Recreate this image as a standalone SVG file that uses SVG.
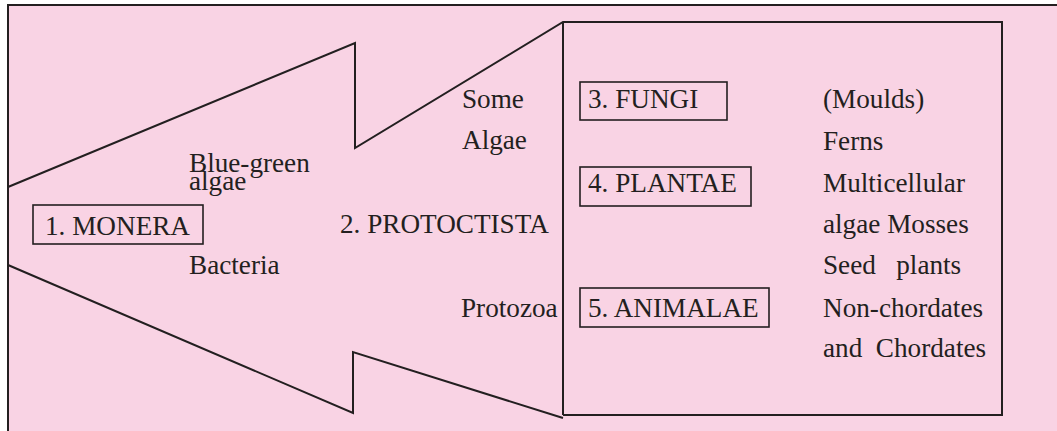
<svg xmlns="http://www.w3.org/2000/svg" width="1057" height="431" viewBox="0 0 1057 431">
<style>
.t{font-family:"Liberation Serif","Times New Roman",serif;font-size:27.2px;fill:#231f20}
.ln{fill:none;stroke:#231f20;stroke-width:2;stroke-linejoin:miter}
.box{fill:none;stroke:#231f20;stroke-width:1.6}
</style>
<rect x="0" y="0" width="1057" height="431" fill="#ffffff"/>
<rect x="8" y="5" width="1049" height="426" fill="#f9d3e4"/>
<g id="frame">
<path class="ln" d="M8,431 V5 H1057"/>
</g>
<g id="connectors">
<path class="ln" d="M8,187 L355,43 V148 L563,22 H1002 V415 H563"/>
<path class="ln" d="M563,22 V415"/>
<path class="ln" d="M563,418 L353,352 V413 L8,265"/>
</g>
<g id="monera">
<rect class="box" x="33" y="205" width="170" height="39"/>
<text class="t" x="45" y="235">1. MONERA</text>
<text class="t" x="189" y="172">Blue-green</text>
<text class="t" x="189" y="190">algae</text>
<text class="t" x="189" y="274">Bacteria</text>
</g>
<g id="protoctista">
<text class="t" x="340" y="233">2. PROTOCTISTA</text>
<text class="t" x="462" y="108">Some</text>
<text class="t" x="462" y="149">Algae</text>
<text class="t" x="461" y="317">Protozoa</text>
</g>
<g id="fungi">
<rect class="box" x="580" y="82" width="147" height="38"/>
<text class="t" x="588" y="108">3. FUNGI</text>
<text class="t" x="823" y="108">(Moulds)</text>
</g>
<g id="plantae">
<rect class="box" x="580" y="167" width="171" height="39"/>
<text class="t" x="588" y="192">4. PLANTAE</text>
<text class="t" x="823" y="150">Ferns</text>
<text class="t" x="823" y="192">Multicellular</text>
<text class="t" x="823" y="233">algae Mosses</text>
<text class="t" x="823" y="274" xml:space="preserve">Seed   plants</text>
</g>
<g id="animalae">
<rect class="box" x="580" y="288" width="189" height="39"/>
<text class="t" x="588" y="317">5. ANIMALAE</text>
<text class="t" x="823" y="317">Non-chordates</text>
<text class="t" x="823" y="357" xml:space="preserve">and  Chordates</text>
</g>
</svg>
